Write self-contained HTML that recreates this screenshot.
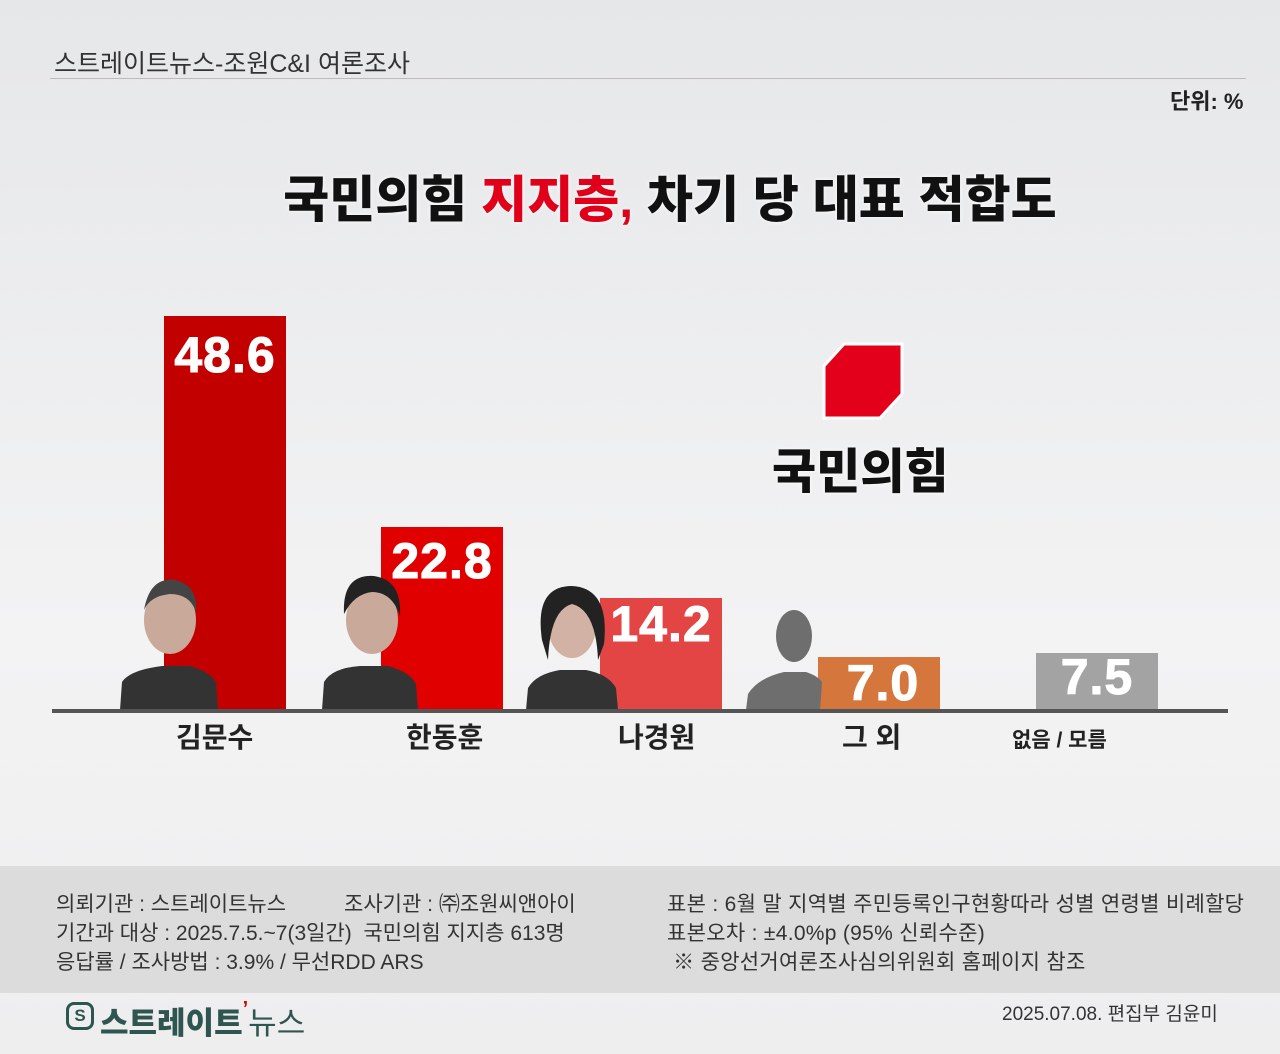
<!DOCTYPE html><html><head><meta charset="utf-8"><style>
body{margin:0;width:1280px;height:1054px;position:relative;overflow:hidden;font-family:"Liberation Sans","Noto Sans CJK KR",sans-serif;background:linear-gradient(#e6e7e9,#f3f3f4 60%,#eeeeef);}
.a{position:absolute;white-space:nowrap}
.bar{position:absolute;bottom:344px;width:122px}
.v{position:absolute;color:#fff;font-weight:900;font-size:50px;width:122px;text-align:center;-webkit-text-stroke:1px #fff;letter-spacing:1px}
.lab{position:absolute;top:716px;font-size:28px;font-weight:700;color:#222}
.ft{font-size:21px;color:#333;line-height:29px}
</style></head><body>
<div class="a" style="left:54px;top:44px;font-size:25px;color:#333">스트레이트뉴스-조원C&amp;I 여론조사</div>
<div class="a" style="left:50px;top:78px;width:1196px;height:1px;background:#bbb"></div>
<div class="a" style="left:1170px;top:84px;font-size:22px;color:#222;font-weight:700">단위: %</div>
<div class="a" style="left:0;width:1340px;top:160px;text-align:center;font-size:50px;font-weight:900;color:#111;text-shadow:0 0 4px #fff">국민의힘 <span style="color:#e0001a">지지층,</span> 차기 당 대표 적합도</div>
<svg class="a" style="left:820px;top:342px" width="84" height="78"><polygon points="24,2 82,2 82,52 60,76 4,76 4,24" fill="#e3001b" stroke="#fff" stroke-width="3"/></svg>
<div class="a" style="left:772px;top:432px;font-size:48px;font-weight:900;color:#111;text-shadow:0 0 4px #fff">국민의힘</div>
<div class="bar" style="left:164px;height:394px;background:#c20000"></div>
<div class="v" style="left:164px;top:326px">48.6</div>
<div class="bar" style="left:381px;height:183px;background:#e00000"></div>
<div class="v" style="left:381px;top:532px">22.8</div>
<div class="bar" style="left:600px;height:112px;background:#e34444"></div>
<div class="v" style="left:600px;top:595px">14.2</div>
<div class="bar" style="left:818px;height:53px;background:#d5763c"></div>
<div class="v" style="left:822px;top:654px">7.0</div>
<div class="bar" style="left:1036px;height:57px;background:#a3a3a3"></div>
<div class="v" style="left:1036px;top:648px">7.5</div>
<svg class="a" style="left:110px;top:570px" width="520" height="142">
<g fill="#333"><path d="M10,140 L12,112 Q20,100 52,96 L80,96 Q100,102 106,112 L108,140Z"/><ellipse cx="60" cy="50" rx="26" ry="34" fill="#c9a99a"/><path d="M34,40 Q40,6 66,10 Q88,16 86,42 Q80,24 60,24 Q40,26 34,40Z" fill="#444"/>
<path d="M212,140 L214,112 Q222,98 250,96 L278,96 Q300,102 306,114 L308,140Z"/><ellipse cx="262" cy="50" rx="26" ry="34" fill="#c9a99a"/><path d="M234,44 Q232,4 264,6 Q292,10 290,46 Q282,22 262,22 Q244,24 234,44Z" fill="#222"/>
<path d="M416,140 L418,118 Q426,104 450,100 L476,100 Q498,104 506,118 L508,140Z"/><ellipse cx="462" cy="56" rx="24" ry="32" fill="#d2b2a4"/><path d="M432,70 Q424,16 462,16 Q500,18 494,74 L488,90 Q486,40 462,34 Q440,40 438,90Z" fill="#222"/></g>
</svg>
<svg class="a" style="left:744px;top:608px" width="80" height="104"><g fill="#6e6e6e"><ellipse cx="50" cy="28" rx="18" ry="26"/><path d="M2,102 L4,86 Q14,70 40,64 L62,64 Q74,68 78,74 L76,102Z"/></g></svg>
<div class="a" style="left:52px;top:709px;width:1176px;height:4px;background:#555"></div>
<div class="lab" style="left:176px">김문수</div>
<div class="lab" style="left:406px">한동훈</div>
<div class="lab" style="left:618px">나경원</div>
<div class="lab" style="left:842px">그 외</div>
<div class="lab" style="left:1012px;font-size:21px;top:724px">없음 / 모름</div>
<div class="a" style="left:0;top:866px;width:1280px;height:127px;background:#dcdcdd"></div>
<div class="a ft" style="left:56px;top:890px">의뢰기관 : 스트레이트뉴스<span style="display:inline-block;width:58px"></span>조사기관 : ㈜조원씨앤아이<br>기간과 대상 : 2025.7.5.~7(3일간)&nbsp; 국민의힘 지지층 613명<br>응답률 / 조사방법 : 3.9% / 무선RDD ARS</div>
<div class="a ft" style="left:667px;top:890px;letter-spacing:0.3px">표본 : 6월 말 지역별 주민등록인구현황따라 성별 연령별 비례할당<br>표본오차 : ±4.0%p (95% 신뢰수준)<br>&nbsp;※ 중앙선거여론조사심의위원회 홈페이지 참조</div>
<div class="a" style="left:66px;top:1002px;width:28px;height:28px;border-radius:8px;border:3px solid #2f5550;box-sizing:border-box;color:#2f5550;font-weight:900;font-size:17px;text-align:center;line-height:22px">S</div>
<div class="a" style="left:100px;top:998px;font-size:31px;font-weight:900;color:#2f5550">스트레이트<span style="color:#d00;font-size:20px;vertical-align:top">’</span><span style="font-weight:400">뉴스</span></div>
<div class="a" style="left:1002px;top:999px;font-size:19px;color:#333">2025.07.08. 편집부 김윤미</div>
</body></html>
